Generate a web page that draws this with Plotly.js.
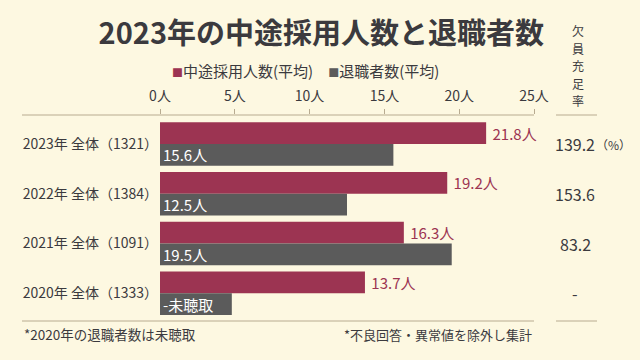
<!DOCTYPE html>
<html>
<head>
<meta charset="utf-8">
<script src="https://cdn.plot.ly/plotly-3.0.1.min.js"></script>
<style>
  html, body { margin: 0; padding: 0; background: #fdf8e1; }
  #chart { width: 640px; height: 360px; }
</style>
</head>
<body>
<div id="chart"></div>
<script>
// ---- data ----
const categories = ["2020年 全体（1333）", "2021年 全体（1091）", "2022年 全体（1384）", "2023年 全体（1321）"];
const hires = [13.7, 16.3, 19.2, 21.8];
const retirees = [null, 19.5, 12.5, 15.6];
const retireePlaceholder = 4.8; // bar length drawn for "未聴取"
const hireLabels = ["13.7人", "16.3人", "19.2人", "21.8人"];
const retireeLabels = ["-未聴取", "19.5人", "12.5人", "15.6人"];
const fillRates = ["-", "83.2", "153.6", "139.2"];
const headerChars = ["欠", "員", "充", "足", "率"];
const xTickVals = [0, 5, 10, 15, 20, 25];
const xTickText = ["0人", "5人", "10人", "15人", "20人", "25人"];

// ---- style ----
const RED = "#9c3452";
const GRAY = "#5b5b5b";
const BG = "#fdf8e1";
const TEXT = "#3b3a3e";
const LINE = "#b8ab90";
const FONT = "'Noto Sans CJK JP', 'Noto Sans', sans-serif";

const W = 374, H = 206, L = 160, T = 115;
const px = x => (x - L) / W;
const py = y => 1 - (y - T) / H;

const traces = [
  {
    type: "bar", orientation: "h", name: "中途採用人数(平均)",
    y: categories, x: hires, text: hireLabels.map(s => "\u00a0" + s),
    marker: { color: RED }, width: 0.437, offset: 0,
    textposition: "outside", constraintext: "none", cliponaxis: false,
    textfont: { color: RED, size: 15, family: FONT },
    hoverinfo: "skip"
  },
  {
    type: "bar", orientation: "h", name: "退職者数(平均)",
    y: categories, x: retirees.map(v => v === null ? retireePlaceholder : v), text: retireeLabels,
    marker: { color: GRAY }, width: 0.437, offset: -0.437,
    textposition: "inside", insidetextanchor: "start", constraintext: "none",
    textfont: { color: "#ffffff", size: 15, family: FONT },
    hoverinfo: "skip"
  }
];

const annotations = [];
// legend
annotations.push({
  xref: "paper", yref: "paper", x: px(305), y: py(70), xanchor: "center", yanchor: "middle",
  showarrow: false, font: { size: 15, color: TEXT, family: FONT },
  text: '<span style="color:' + RED + ';font-size:11px">■</span>中途採用人数(平均)　<span style="color:' + GRAY + ';font-size:11px">■</span>退職者数(平均)'
});
// vertical header, one character per line
headerChars.forEach((ch, i) => {
  annotations.push({
    xref: "paper", yref: "paper", x: px(578), y: py(30.5 + i * 17.6), xanchor: "center", yanchor: "middle",
    showarrow: false, borderpad: 0, font: { size: 12, color: TEXT, family: FONT }, text: ch
  });
});
// fill rates
categories.forEach((c, i) => {
  annotations.push({
    xref: "paper", yref: "y", x: px(575), y: c, xanchor: "center", yanchor: "middle",
    showarrow: false, font: { size: 16, color: TEXT, family: FONT }, text: fillRates[i]
  });
});
annotations.push({
  xref: "paper", yref: "y", x: px(594), y: categories[3], xanchor: "left", yanchor: "middle",
  showarrow: false, font: { size: 12, color: TEXT, family: FONT }, text: "（%）"
});
// footnotes
annotations.push({
  xref: "paper", yref: "paper", x: px(22), y: py(334), xanchor: "left", yanchor: "middle",
  showarrow: false, font: { size: 13.5, color: TEXT, family: FONT }, text: "*2020年の退職者数は未聴取"
});
annotations.push({
  xref: "paper", yref: "paper", x: px(534), y: py(334), xanchor: "right", yanchor: "middle",
  showarrow: false, font: { size: 13, color: TEXT, family: FONT }, text: "*不良回答・異常値を除外し集計"
});

const shapes = [
  { type: "line", xref: "paper", yref: "paper", x0: px(22), x1: px(534), y0: 1, y1: 1, line: { color: LINE, width: 1 } },
  { type: "line", xref: "paper", yref: "paper", x0: px(22), x1: px(534), y0: 0, y1: 0, line: { color: LINE, width: 1 } },
  { type: "line", xref: "paper", yref: "paper", x0: px(556), x1: px(597), y0: 1, y1: 1, line: { color: LINE, width: 1 } },
  { type: "line", xref: "paper", yref: "paper", x0: px(556), x1: px(597), y0: 0, y1: 0, line: { color: LINE, width: 1 } }
];

const layout = {
  width: 640, height: 360,
  paper_bgcolor: BG, plot_bgcolor: BG,
  margin: { l: L, r: 640 - L - W, t: T, b: 360 - T - H, pad: 0 },
  font: { family: FONT, color: TEXT },
  showlegend: false,
  barmode: "overlay",
  title: {
    text: "<b>2023年の中途採用人数と退職者数</b>",
    font: { size: 29, color: TEXT, family: FONT },
    xref: "container", x: 0.502, xanchor: "center",
    yref: "container", y: 1 - 34 / 360, yanchor: "middle"
  },
  xaxis: {
    side: "top", range: [0, 25], tickvals: xTickVals, ticktext: xTickText,
    ticks: "outside", ticklen: 5, tickcolor: LINE, tickwidth: 1,
    ticklabelstandoff: 2,
    showgrid: false, zeroline: false, showline: false,
    tickfont: { size: 14, color: TEXT, family: FONT }, fixedrange: true
  },
  yaxis: {
    type: "category", categoryorder: "array", categoryarray: categories,
    range: [-0.557, 3.583], showgrid: false, zeroline: false, showline: false,
    ticks: "", ticklabelstandoff: 1,
    tickfont: { size: 14, color: TEXT, family: FONT }, fixedrange: true
  },
  annotations: annotations,
  shapes: shapes
};

Plotly.newPlot("chart", traces, layout, { displayModeBar: false, staticPlot: true });
</script>
</body>
</html>
